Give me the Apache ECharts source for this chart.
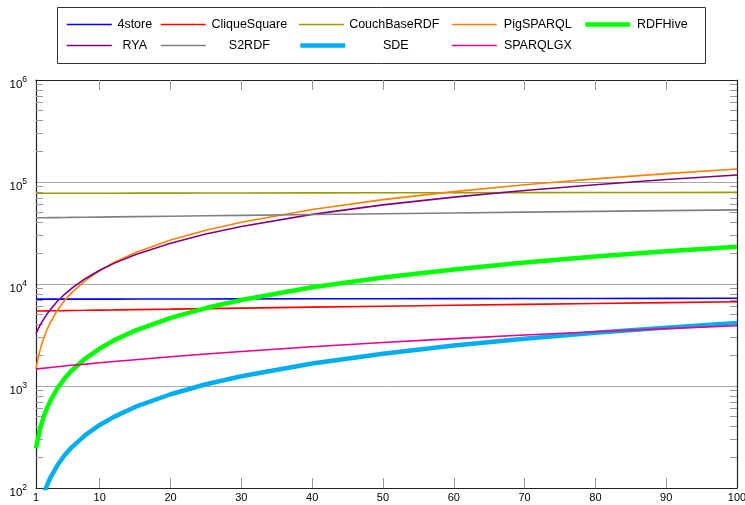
<!DOCTYPE html>
<html><head><meta charset="utf-8">
<script src="https://cdn.jsdelivr.net/npm/echarts@6/dist/echarts.min.js"></script>
<style>html,body{margin:0;padding:0;background:#fff}#c{width:745px;height:505px}</style>
</head><body><div id="c"></div>
<script>
// ---- data ----
const xValues = [1, 1.5, 2, 2.5, 3, 4, 5, 6, 8, 10, 12, 15, 20, 25, 30, 40, 50, 60, 70, 80, 90, 100];
const seriesNames = ['4store', 'CliqueSquare', 'CouchBaseRDF', 'PigSPARQL', 'RDFHive', 'RYA', 'S2RDF', 'SDE', 'SPARQLGX'];
const store4 = [7100, 7100, 7100, 7100, 7100, 7110, 7110, 7110, 7110, 7115, 7115, 7120, 7130, 7135, 7145, 7160, 7175, 7190, 7205, 7220, 7235, 7250];
const cliqueSquare = [5430, 5440, 5440, 5450, 5460, 5470, 5480, 5500, 5520, 5550, 5570, 5610, 5670, 5740, 5800, 5930, 6060, 6190, 6310, 6440, 6570, 6700];
const couchBaseRDF = [77500, 77500, 77500, 77500, 77500, 77550, 77550, 77550, 77600, 77650, 77700, 77750, 77850, 77950, 78000, 78200, 78350, 78500, 78700, 78850, 79000, 79200];
const pigSPARQL = [1490, 2160, 2830, 3500, 4170, 5510, 6850, 8190, 10870, 13550, 16230, 20250, 26950, 33650, 40350, 53750, 67150, 80550, 93950, 107350, 120750, 134150];
const rdfHive = [245, 363, 480, 595, 710, 945, 1175, 1410, 1870, 2330, 2800, 3500, 4650, 5810, 6970, 9290, 11600, 13900, 16250, 18570, 20900, 23200];
const rya = [3280, 3860, 4430, 5010, 5580, 6730, 7880, 9030, 11330, 13630, 15930, 19380, 25130, 30880, 36630, 48130, 59630, 71130, 82630, 94130, 105630, 117130];
const s2rdf = [44500, 44550, 44600, 44650, 44700, 44770, 44860, 44950, 45130, 45300, 45480, 45750, 46200, 46640, 47080, 47970, 48860, 49750, 50640, 51530, 52420, 53300];
const sde = [41.5, 62, 83, 104, 125, 166, 208, 249, 332, 415, 498, 623, 830, 1040, 1245, 1660, 2075, 2490, 2905, 3320, 3735, 4150];
const sparqlgx = [1470, 1480, 1495, 1505, 1520, 1545, 1570, 1595, 1640, 1690, 1740, 1810, 1935, 2060, 2180, 2425, 2670, 2915, 3160, 3405, 3650, 3900];
const seriesValues = [store4, cliqueSquare, couchBaseRDF, pigSPARQL, rdfHive, rya, s2rdf, sde, sparqlgx];

const xLabelValues = [1, 10, 20, 30, 40, 50, 60, 70, 80, 90, 100];
const xTickValues = [10, 20, 30, 40, 50, 60, 70, 80, 90];
const yMin = 100, yMax = 1000000;
const yMinorValues = [200,300,400,500,600,700,800,900, 2000,3000,4000,5000,6000,7000,8000,9000,
  20000,30000,40000,50000,60000,70000,80000,90000, 200000,300000,400000,500000,600000,700000,800000,900000];

// ---- styles ----
const colors = ['#0000ff', '#ff0000', '#9b9b00', '#ff8000', '#00ff00', '#800080', '#808080', '#00aeef', '#ec008c'];
const widths = [1.6, 1.6, 1.6, 1.6, 4.5, 1.6, 1.6, 4.5, 1.6];
const FONT = 'Liberation Sans';
const frameColor = '#222';
const tickColor = '#999';

const legendCols = [66, 160, 298, 451, 583];
const legendRows = [18, 39];
const legendTextW = [36, 77, 91, 72, 54];
const legendPos = [[0,0],[0,1],[0,2],[0,3],[0,4],[1,0],[1,1],[1,2],[1,3]];

const chart = echarts.init(document.getElementById('c'), null, {renderer: 'canvas'});

const legends = seriesNames.map((n, i) => {
  const [r, c] = legendPos[i];
  return {
    show: true, left: legendCols[c], top: legendRows[r], padding: 0,
    itemWidth: 45, itemHeight: 12, itemGap: 0, data: [n], selectedMode: false,
    itemStyle: {opacity: 0},
    lineStyle: {width: widths[i], color: colors[i]},
    formatter: s => '{t|' + s + '}',
    textStyle: {rich: {t: {width: legendTextW[c], align: 'center', fontSize: 12.5, fontFamily: FONT, color: '#000'}}}
  };
});

const logVal = v => Math.log10(v);

const option = {
  animation: false,
  backgroundColor: '#fff',
  grid: {left: 36, right: 8, top: 80, bottom: 17, containLabel: false, outerBoundsMode: 'none'},
  legend: legends,
  graphic: [{
    type: 'rect', z: -1, silent: true,
    shape: {x: 57.5, y: 7.5, width: 648, height: 56},
    style: {fill: 'none', stroke: '#333', lineWidth: 1}
  }],
  xAxis: [{
    type: 'value', min: 1, max: 100, position: 'bottom',
    axisLine: {show: true, onZero: false, lineStyle: {color: frameColor, width: 1.2}},
    axisTick: {show: true, inside: true, length: 10, customValues: xTickValues, lineStyle: {color: tickColor}},
    axisLabel: {show: true, customValues: xLabelValues, fontSize: 11, fontFamily: FONT, color: '#000', margin: 4},
    splitLine: {show: false}
  }, {
    type: 'value', min: 1, max: 100, position: 'top',
    axisLine: {show: true, onZero: false, lineStyle: {color: frameColor, width: 1.2}},
    axisTick: {show: true, inside: true, length: 10, customValues: xTickValues, lineStyle: {color: tickColor}},
    axisLabel: {show: false},
    splitLine: {show: false}
  }],
  yAxis: [{
    type: 'log', logBase: 10, min: yMin, max: yMax, position: 'left',
    axisLine: {show: true, onZero: false, lineStyle: {color: frameColor, width: 1.2}},
    axisTick: {show: false},
    axisLabel: {
      show: true, margin: 9, fontFamily: FONT, color: '#000', padding: [6, 0, 0, 0],
      formatter: v => '{b|10}{s|' + Math.round(Math.log10(v)) + '}',
      rich: {b: {fontSize: 11.5, fontFamily: FONT, color: '#000', verticalAlign: 'bottom'},
             s: {fontSize: 8.5, fontFamily: FONT, color: '#000', verticalAlign: 'top', padding: [0, 0, 6, 0]}}
    },
    splitLine: {show: true, lineStyle: {color: '#a6a6a6', width: 1}}
  }, {
    type: 'value', min: logVal(yMin), max: logVal(yMax), position: 'right',
    axisLine: {show: true, onZero: false, lineStyle: {color: frameColor, width: 1.2}},
    axisTick: {show: true, inside: true, length: 7, customValues: yMinorValues.map(logVal), lineStyle: {color: tickColor}},
    axisLabel: {show: false}, splitLine: {show: false}
  }, {
    type: 'value', min: logVal(yMin), max: logVal(yMax), position: 'left',
    axisLine: {show: false},
    axisTick: {show: true, inside: true, length: 7, customValues: yMinorValues.map(logVal), lineStyle: {color: tickColor}},
    axisLabel: {show: false}, splitLine: {show: false}
  }],
  series: seriesNames.map((n, i) => ({
    name: n, type: 'line', xAxisIndex: 0, yAxisIndex: 0,
    data: xValues.map((x, k) => [x, seriesValues[i][k]]),
    showSymbol: false, symbol: 'none', clip: true,
    lineStyle: {color: colors[i], width: widths[i]},
    itemStyle: {color: colors[i]},
    z: 2 + i
  }))
};
chart.setOption(option);
</script></body></html>
